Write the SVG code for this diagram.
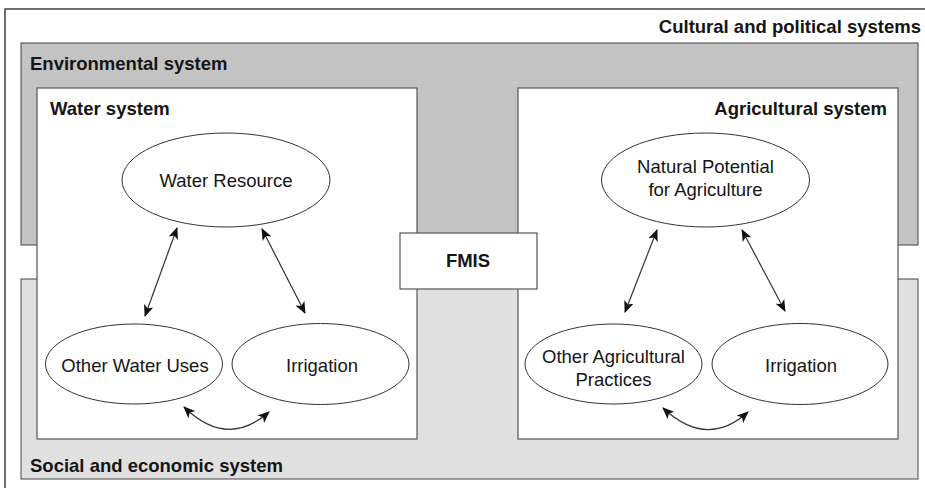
<svg xmlns="http://www.w3.org/2000/svg" width="925" height="488" viewBox="0 0 925 488">
<style>
.t{font-family:"Liberation Sans",Arial,sans-serif;font-size:18.5px;fill:#151515}
.b{font-weight:bold}
.box{fill:#fff;stroke:#555;stroke-width:1.2}
.el{fill:#fff;stroke:#333;stroke-width:1}
.ln{fill:none;stroke:#333;stroke-width:1.2;marker-start:url(#ah);marker-end:url(#ah)}
</style>
<defs>
<marker id="ah" viewBox="0 0 12 10" refX="11" refY="5" markerWidth="12" markerHeight="10" markerUnits="userSpaceOnUse" orient="auto-start-reverse">
<path d="M0,0 L12,5 L0,10 L3,5 z" fill="#111"/>
</marker>
</defs>
<rect width="925" height="488" fill="#fff"/>
<g id="cultural">
<rect x="5" y="9" width="940" height="490" fill="#fff" stroke="#111" stroke-width="1.2"/>
<text class="t b" x="921" y="33" text-anchor="end">Cultural and political systems</text>
</g>
<g id="environmental">
<rect x="21" y="43" width="897" height="202" fill="#c3c3c3" stroke="#444" stroke-width="1"/>
<text class="t b" x="30" y="70">Environmental system</text>
</g>
<g id="social">
<rect x="21" y="279" width="897" height="200" fill="#e0e0e0" stroke="#444" stroke-width="1"/>
<text class="t b" x="30" y="472">Social and economic system</text>
</g>
<g id="water-system">
<rect class="box" x="37" y="88" width="380" height="351"/>
<text class="t b" x="50" y="115">Water system</text>
</g>
<g id="agricultural-system">
<rect class="box" x="518" y="88" width="380" height="351"/>
<text class="t b" x="887" y="115" text-anchor="end">Agricultural system</text>
</g>
<g id="fmis">
<rect x="400" y="233" width="137" height="56" fill="#fff" stroke="#555" stroke-width="1.2"/>
<text class="t b" x="468" y="267" text-anchor="middle">FMIS</text>
</g>
<g id="water-resource">
<ellipse class="el" cx="226" cy="180" rx="104" ry="47"/>
<text class="t" x="226" y="187" text-anchor="middle">Water Resource</text>
</g>
<g id="other-water-uses">
<ellipse class="el" cx="134" cy="364" rx="88.5" ry="40"/>
<text class="t" x="135" y="372" text-anchor="middle">Other Water Uses</text>
</g>
<g id="irrigation-water">
<ellipse class="el" cx="320.5" cy="364" rx="88.5" ry="40.5"/>
<text class="t" x="322" y="372" text-anchor="middle">Irrigation</text>
</g>
<g id="natural-potential">
<ellipse class="el" cx="705.5" cy="180" rx="104" ry="47"/>
<text class="t" x="705.5" y="173" text-anchor="middle">Natural Potential</text>
<text class="t" x="705.5" y="196" text-anchor="middle">for Agriculture</text>
</g>
<g id="other-agricultural-practices">
<ellipse class="el" cx="613.5" cy="364" rx="88.5" ry="40"/>
<text class="t" x="613.5" y="363" text-anchor="middle">Other Agricultural</text>
<text class="t" x="613.5" y="386" text-anchor="middle">Practices</text>
</g>
<g id="irrigation-agri">
<ellipse class="el" cx="800" cy="364" rx="88" ry="40.5"/>
<text class="t" x="801" y="372" text-anchor="middle">Irrigation</text>
</g>
<g id="connectors">
<path class="ln" d="M177,228 L145,316"/>
<path class="ln" d="M262,229 L305,313"/>
<path class="ln" d="M184,407 Q227,449 269,412"/>
<path class="ln" d="M657,230 L625,312"/>
<path class="ln" d="M742,230 L785,311"/>
<path class="ln" d="M663,408 Q707,449 748,412"/>
</g>
</svg>
